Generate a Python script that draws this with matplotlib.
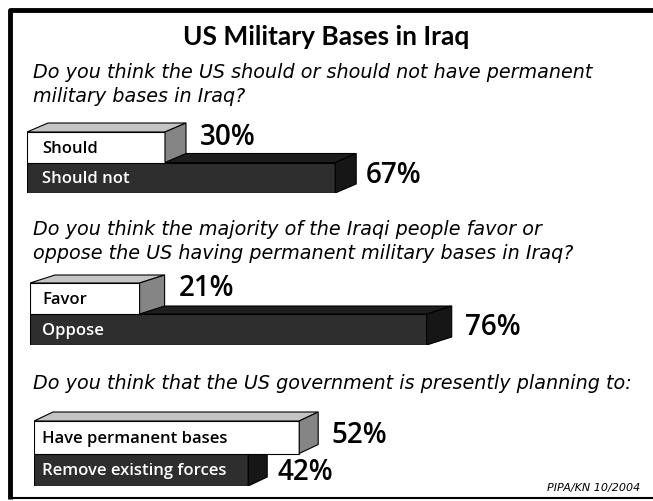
import matplotlib
matplotlib.use("Agg")
import matplotlib.pyplot as plt
from matplotlib.patches import Polygon

W, H = 653, 501

title = "US Military Bases in Iraq"
questions = [
    ["Do you think the US should or should not have permanent",
     "military bases in Iraq?"],
    ["Do you think the majority of the Iraqi people favor or",
     "oppose the US having permanent military bases in Iraq?"],
    ["Do you think that the US government is presently planning to:"],
]
labels_1 = ["Should", "Should not"]
values_1 = [30, 67]
labels_2 = ["Favor", "Oppose"]
values_2 = [21, 76]
labels_3 = ["Have permanent bases", "Remove existing forces"]
values_3 = [52, 42]
source = "PIPA/KN 10/2004"

fig = plt.figure(figsize=(W / 100, H / 100), dpi=100)
bg = fig.add_axes([0, 0, 1, 1])
bg.set_xlim(0, W)
bg.set_ylim(H, 0)
bg.axis("off")

# frame: thick left and top, thin bottom
bg.plot([10, 10, W], [H - 2, 10, 10], color="black", lw=3.5, solid_capstyle="butt")
bg.plot([10, W], [H - 3, H - 3], color="black", lw=1.5)

bg.text(326, 37, title, ha="center", va="center", fontsize=19, fontweight="bold",
        family="Lato")

q_base = [78, 235, 389]
for q, y in zip(questions, q_base):
    for k, line in enumerate(q):
        bg.text(33, y + 24 * k, line, fontsize=13.8, style="italic",
                family="DejaVu Sans", va="baseline", ha="left")

bg.text(640, 488, source, ha="right", va="center", fontsize=8, style="italic",
        family="DejaVu Sans")

WHITE = dict(front="white", top="#c4c4c4", side="#858585", text="black")
BLACK = dict(front="#2e2e2e", top="#1e1e1e", side="#161616", text="white")


def panel(x0, ytop, bar_h, scale, dx, dy, labels, values, label_dx, label_dy):
    # axes in pixel layout: 1 x-unit = 1 percent, 1 y-unit = one bar height
    pad = dy + 6
    right = 625
    ax = fig.add_axes([x0 / W, 1 - (ytop + 2 * bar_h) / H,
                       (right - x0) / W, (2 * bar_h + pad) / H])
    ax.set_xlim(0, (right - x0) / scale)
    ax.set_ylim(2, -pad / bar_h)
    ax.axis("off")
    ddx = dx / scale
    ddy = dy / bar_h
    styles = [WHITE, BLACK]
    for i in [1, 0]:
        v = values[i]
        st = styles[i]
        y0, y1 = i, i + 1
        z = 3 - i * 2
        ax.barh(i + 0.5, v, height=1, color=st["front"], edgecolor="black", lw=0.8,
                zorder=z)
        top = Polygon([(0, y0), (v, y0), (v + ddx, y0 - ddy), (ddx, y0 - ddy)],
                      closed=True, fc=st["top"], ec="black", lw=0.8, zorder=z)
        side = Polygon([(v, y0), (v + ddx, y0 - ddy), (v + ddx, y1 - ddy), (v, y1)],
                       closed=True, fc=st["side"], ec="black", lw=0.8, zorder=z)
        ax.add_patch(top)
        ax.add_patch(side)
        ax.text((42 - x0) / scale, i + 0.55, labels[i], color=st["text"], fontsize=12,
                fontweight="semibold", family="Open Sans", va="center", ha="left",
                zorder=z + 0.5)
        ax.text(v + ddx + label_dx[i] / scale, i + 0.5 - label_dy[i] / bar_h,
                f"{v}%", fontsize=20, fontweight="semibold", family="Open Sans",
                va="center", ha="left", zorder=6)


panel(27, 132, 30.5, 4.6, 21, 9, labels_1, values_1, [14, 10], [10, 2])
panel(30, 283, 31, 5.22, 25, 8, labels_2, values_2, [14, 13], [10, 2])
panel(34, 421, 32.5, 5.1, 19, 9, labels_3, values_3, [13, 10], [2, -3])

fig.savefig("out.png", dpi=100)
